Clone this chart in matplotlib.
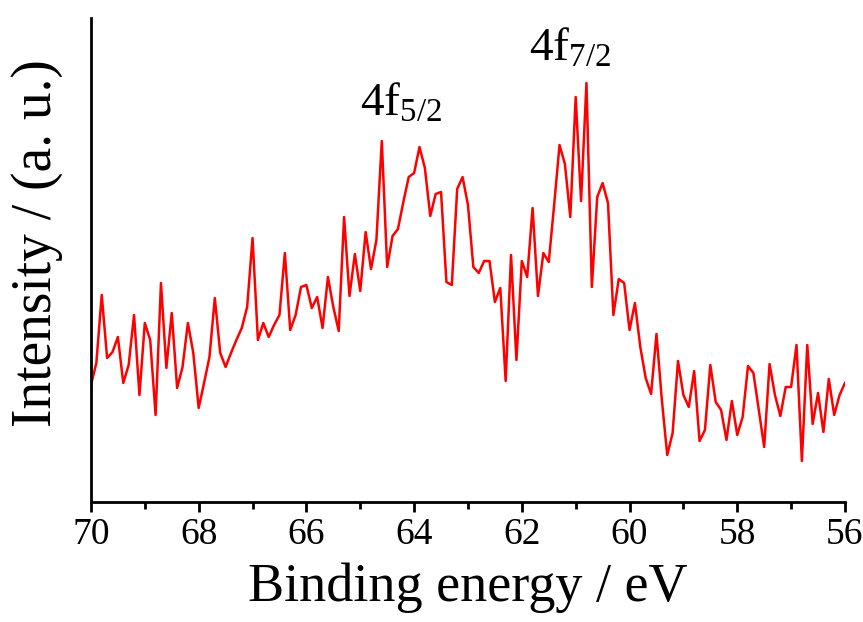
import numpy as np
import matplotlib.pyplot as plt
from matplotlib.ticker import MultipleLocator

plt.rcParams['font.family'] = 'Liberation Serif'
plt.rcParams['mathtext.fontset'] = 'custom'
plt.rcParams['mathtext.rm'] = 'Liberation Serif'
plt.rcParams['mathtext.it'] = 'Liberation Serif:italic'

# binding energy grid, 70.0 -> 56.0 eV in 0.1 eV steps
energy = np.round(np.arange(70.0, 55.95, -0.1), 1)

# Sn 4f region, intensity in arbitrary units
counts = [
    117, 139, 207, 144, 150, 165, 119, 137, 187, 107,   # 70.0 - 69.1
    179, 162, 87, 219, 134, 189, 114, 135, 179, 149,    # 69.0 - 68.1
    94, 119, 145, 204, 149, 135, 149, 162, 174, 195,    # 68.0 - 67.1
    264, 162, 179, 165, 177, 187, 249, 172, 187, 215,   # 67.0 - 66.1
    217, 194, 205, 174, 225, 195, 171, 285, 206, 248,   # 66.0 - 65.1
    211, 270, 233, 262, 361, 235, 266, 273, 300, 325,   # 65.0 - 64.1
    329, 355, 334, 286, 308, 310, 220, 217, 313, 325,   # 64.0 - 63.1
    297, 235, 229, 241, 241, 200, 214, 121, 247, 142,   # 63.0 - 62.1
    241, 225, 294, 206, 249, 240, 297, 357, 338, 285,   # 62.0 - 61.1
    405, 301, 419, 215, 305, 319, 299, 187, 223, 219,   # 61.0 - 60.1
    172, 199, 155, 124, 108, 168, 102, 47, 69, 141,     # 60.0 - 59.1
    107, 95, 131, 61, 72, 137, 100, 92, 62, 101,        # 59.0 - 58.1
    67, 85, 136, 129, 92, 55, 138, 107, 86, 115,        # 58.0 - 57.1
    115, 157, 41, 157, 78, 109, 70, 123, 87, 107,       # 57.0 - 56.1
    119,                                                # 56.0
]

peak_labels = [r'4f$_{\mathrm{5/2}}$', r'4f$_{\mathrm{7/2}}$']
peak_pos = [64.25, 61.1]
peak_height = [386, 441]

fig = plt.figure(figsize=(8.63, 6.22), dpi=100)
ax = fig.add_axes([0.1054, 0.193, 0.8737, 0.778])

ax.plot(energy, counts, color='#ff0000', lw=1.8)

for lab, x, y in zip(peak_labels, peak_pos, peak_height):
    ax.text(x, y, lab, fontsize=34, ha='center', va='baseline')

ax.set_xlim(70, 56)
ax.set_ylim(0, 484)
ax.xaxis.set_major_locator(MultipleLocator(2))
ax.xaxis.set_minor_locator(MultipleLocator(1))
ax.set_yticks([])

for side in ['top', 'right']:
    ax.spines[side].set_visible(False)
for side in ['left', 'bottom']:
    ax.spines[side].set_linewidth(2)

ax.tick_params(axis='x', which='major', direction='out', length=7, width=2,
               labelsize=27, pad=4)
ax.tick_params(axis='x', which='minor', direction='out', length=5, width=2)

ax.set_xlabel('Binding energy / eV', fontsize=39, labelpad=8)
ax.set_ylabel('Intensity / (a. u.)', fontsize=40)
ax.yaxis.set_label_coords(-0.037, 0.535)

plt.savefig('out.png', dpi=100)
